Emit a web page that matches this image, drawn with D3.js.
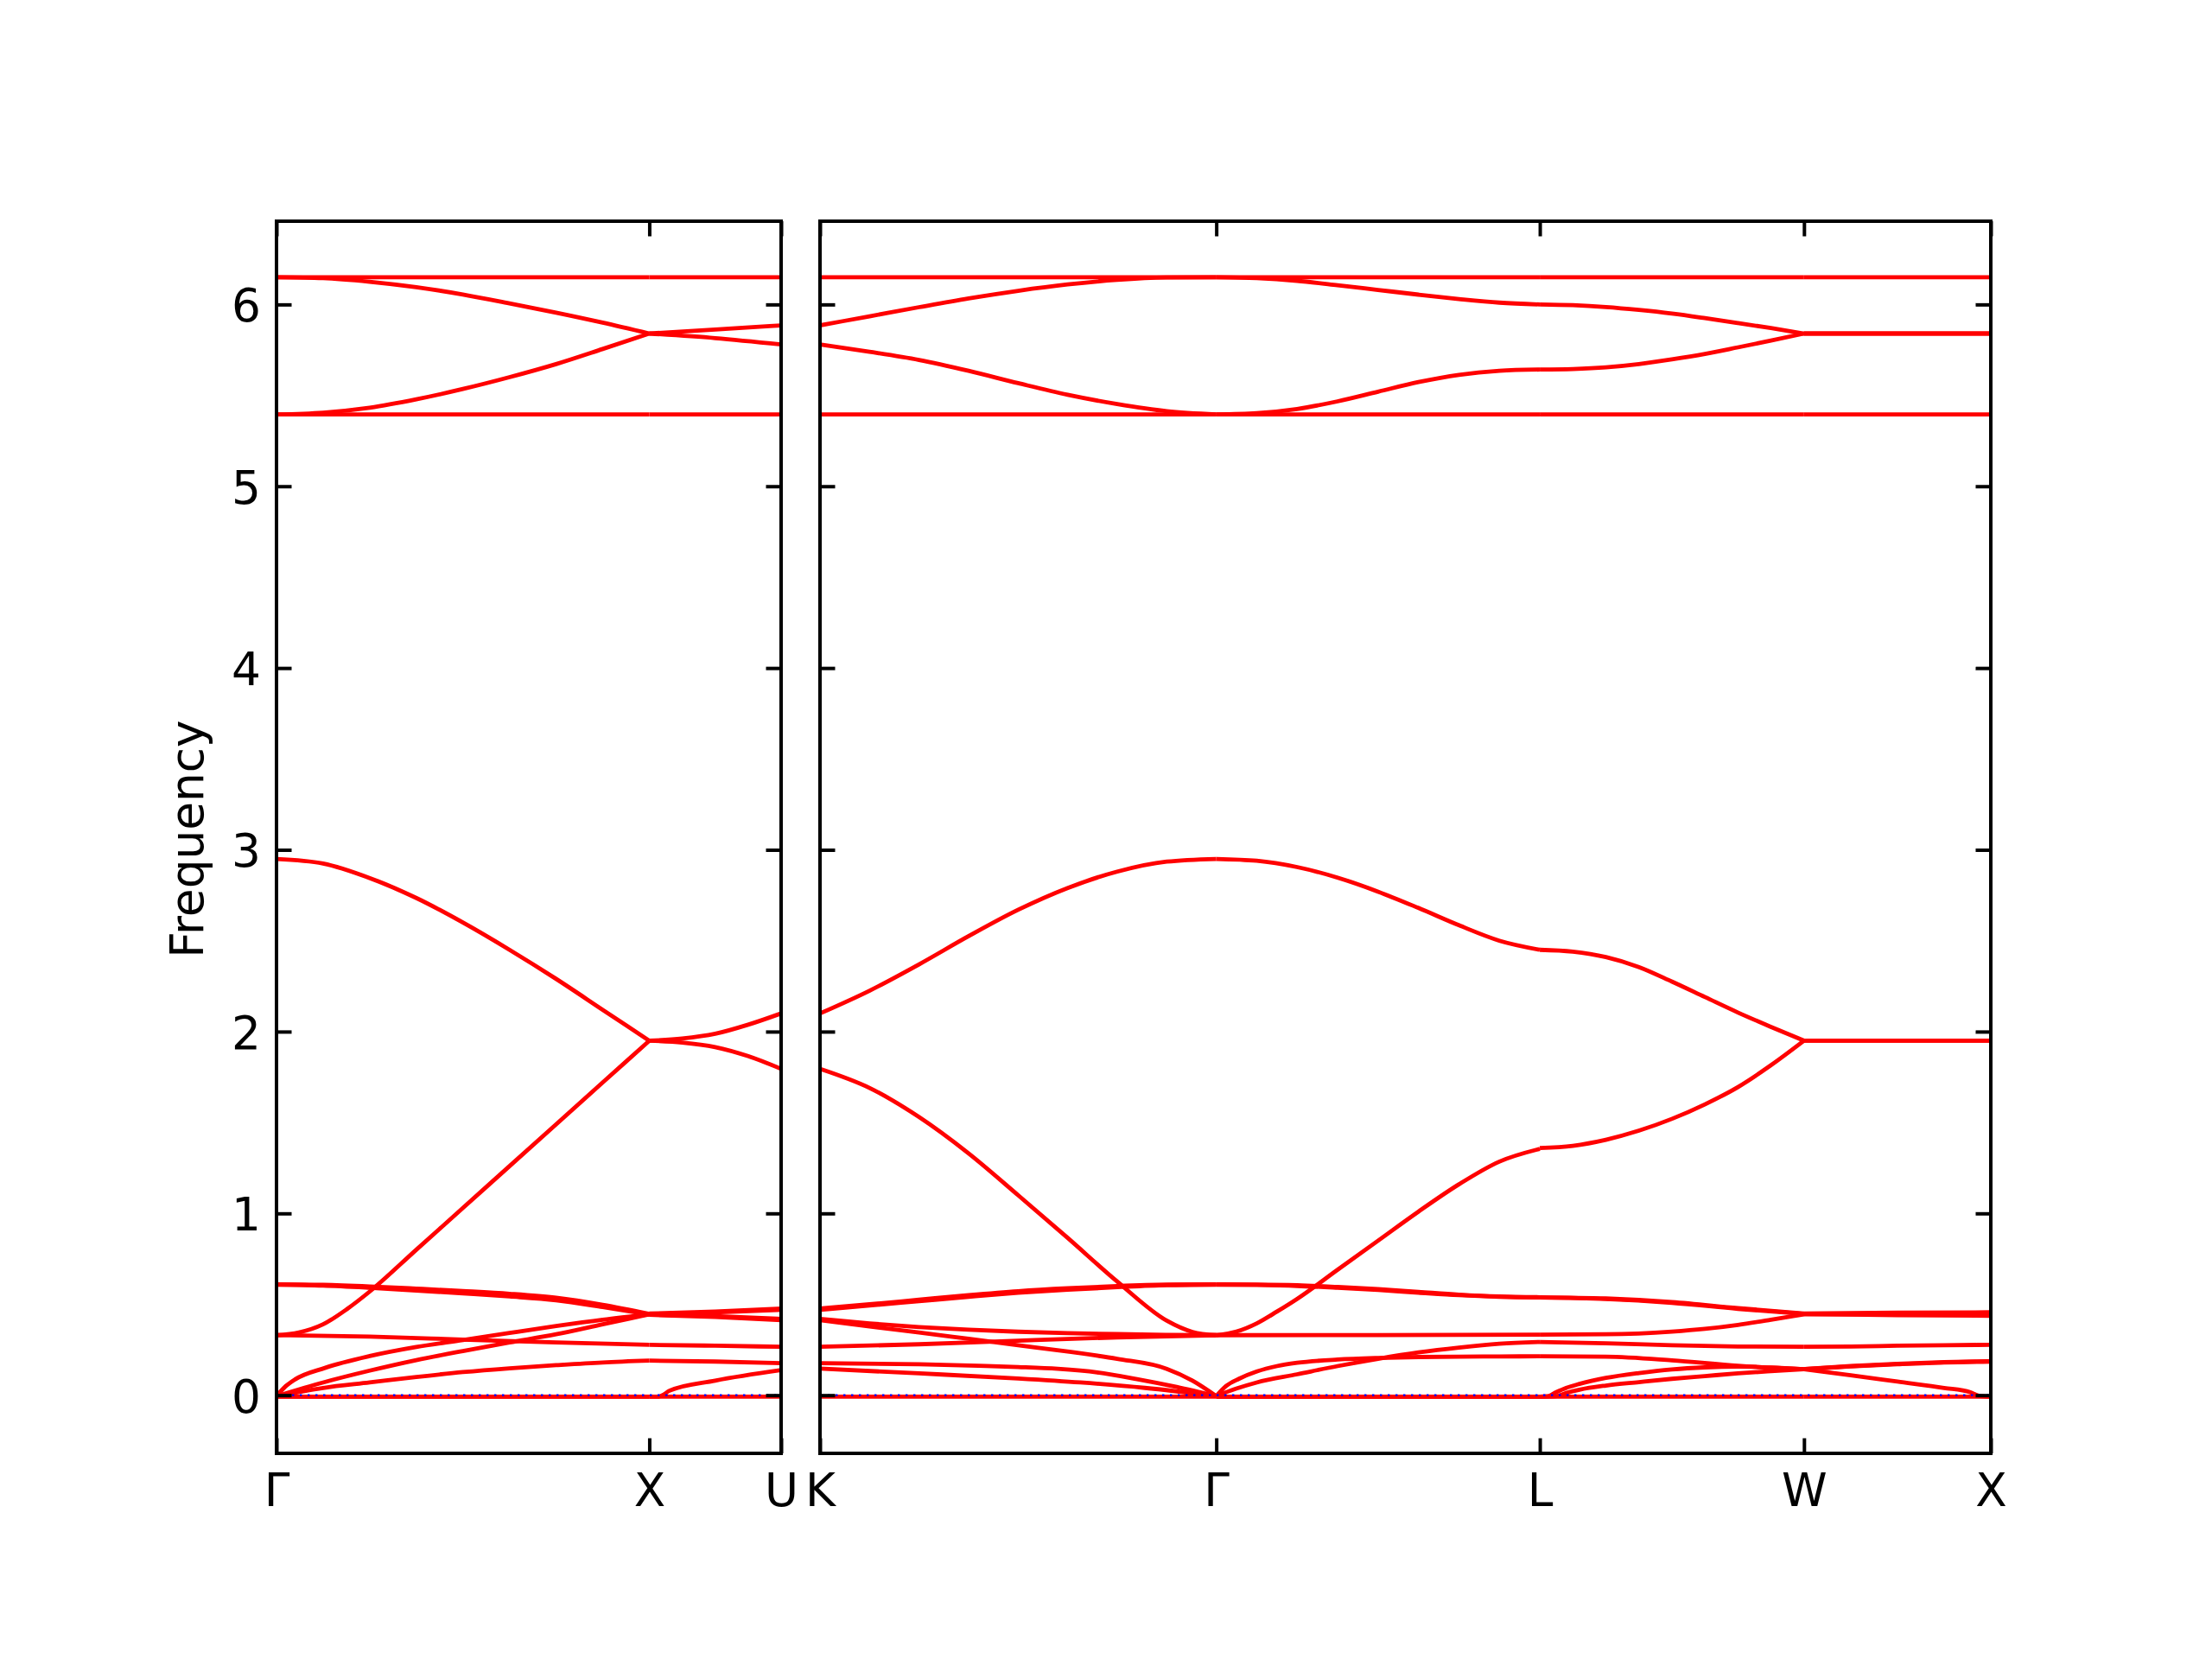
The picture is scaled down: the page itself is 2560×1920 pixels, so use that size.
<!DOCTYPE html>
<html><head><meta charset="utf-8">
<script src="https://cdn.jsdelivr.net/npm/d3@7"></script>
<style>html,body{margin:0;padding:0;background:#fff;} svg{display:block;}</style>
</head><body>
<svg id="chart" width="2560" height="1920"></svg>
<script>
// ---------------- DATA ----------------
const segmentNames   = ["Γ-X", "X-U", "K-Γ", "Γ-L", "L-W", "W-X"];
const segmentLengths = [1.0, 0.3536, 1.0607, 0.8660, 0.7071, 0.5];
const segmentPanel   = [0, 0, 1, 1, 1, 1];
const panelTickLabels = [["Γ", "X", "U"], ["K", "Γ", "L", "W", "X"]];
const yTickValues = [0, 1, 2, 3, 4, 5, 6];
const yDomain = [-0.32, 6.458];
const yLabel = "Frequency";

// each band: [fraction along segment, frequency]
const bandsGX = [
  [[0,6.15],[1,6.15]],
  [[0,6.15],[.125,6.145],[.25,6.125],[.375,6.095],[.5,6.055],[.625,6.006],[.75,5.955],[.875,5.9],[1,5.84]],
  [[0,5.395],[.125,5.405],[.25,5.432],[.375,5.478],[.5,5.535],[.625,5.6],[.75,5.672],[.875,5.755],[1,5.84]],
  [[0,5.395],[1,5.395]],
  [[0,2.95],[.125,2.925],[.25,2.845],[.375,2.735],[.5,2.6],[.625,2.45],[.75,2.29],[.875,2.12],[1,1.95]],
  [[0,.33],[.06,.345],[.125,.39],[.19,.475],[.25,.57],[.375,.8],[.5,1.03],[.625,1.26],[.75,1.49],[.875,1.72],[1,1.95]],
  [[0,.61],[.125,.607],[.25,.598],[.375,.586],[.5,.573],[.625,.558],[.75,.536],[.875,.497],[1,.447]],
  [[0,.608],[.125,.603],[.25,.591],[.375,.576],[.5,.56],[.625,.543],[.75,.522],[.875,.485],[1,.444]],
  [[0,.33],[.25,.322],[.5,.306],[.75,.29],[1,.277]],
  [[0,-.005],[.025,.05],[.05,.087],[.13,.15],[.25,.215],[.375,.265],[.5,.303],[.625,.342],[.75,.38],[.875,.415],[1,.445]],
  [[0,-.005],[.125,.07],[.25,.135],[.375,.193],[.5,.243],[.625,.29],[.75,.335],[.875,.39],[1,.445]],
  [[0,-.005],[.125,.04],[.25,.07],[.375,.1],[.5,.127],[.625,.148],[.75,.165],[.875,.18],[1,.19]],
  [[0,-.008],[1,-.008]],
  [[0,-.008],[1,-.008]]
];
const bandsXU = [
  [[0,6.15],[1,6.15]],
  [[0,5.84],[.5,5.862],[1,5.885]],
  [[0,5.84],[.5,5.815],[1,5.78]],
  [[0,5.395],[1,5.395]],
  [[0,1.95],[.25,1.962],[.5,1.988],[.75,2.038],[1,2.1]],
  [[0,1.95],[.25,1.94],[.5,1.915],[.75,1.865],[1,1.795]],
  [[0,.449],[.5,.46],[1,.477]],
  [[0,.446],[.5,.455],[1,.47]],
  [[0,.444],[.5,.435],[1,.42]],
  [[0,.442],[.5,.43],[1,.413]],
  [[0,.277],[.5,.272],[1,.266]],
  [[0,.19],[.5,.185],[1,.176]],
  [[0,-.008],[.07,-.008],[.1,.0],[.155,.025],[.5,.08],[1,.138]],
  [[0,-.008],[1,-.008]]
];
const bandsKG = [
  [[0,6.15],[1,6.15]],
  [[0,5.885],[.125,5.935],[.25,5.985],[.375,6.033],[.5,6.075],[.625,6.11],[.75,6.135],[.875,6.148],[1,6.15]],
  [[0,5.78],[.125,5.74],[.25,5.695],[.375,5.635],[.5,5.567],[.625,5.503],[.75,5.452],[.875,5.413],[1,5.395]],
  [[0,5.395],[1,5.395]],
  [[0,2.1],[.125,2.225],[.25,2.37],[.375,2.525],[.5,2.67],[.625,2.79],[.75,2.88],[.875,2.935],[1,2.95]],
  [[0,1.795],[.125,1.69],[.25,1.53],[.375,1.33],[.5,1.1],[.625,.865],[.75,.625],[.875,.41],[.94,.348],[1,.33]],
  [[0,.477],[.125,.5],[.25,.525],[.375,.55],[.5,.572],[.625,.588],[.75,.6],[.875,.608],[1,.61]],
  [[0,.47],[.125,.493],[.25,.517],[.375,.541],[.5,.563],[.625,.58],[.75,.594],[.875,.605],[1,.608]],
  [[0,.42],[.125,.395],[.25,.375],[.375,.36],[.5,.349],[.625,.341],[.75,.336],[.875,.332],[1,.33]],
  [[0,.413],[.125,.378],[.25,.345],[.375,.31],[.5,.275],[.625,.24],[.75,.2],[.875,.145],[.94,.08],[1,-.005]],
  [[0,.266],[.25,.28],[.5,.3],[.75,.318],[1,.33]],
  [[0,.176],[.25,.17],[.4,.162],[.5,.155],[.6,.145],[.7,.125],[.8,.088],[.9,.045],[1,-.005]],
  [[0,.146],[.25,.12],[.5,.092],[.657,.07],[.82,.04],[1,-.005]],
  [[0,-.008],[1,-.008]]
];
const bandsGL = [
  [[0,6.15],[1,6.15]],
  [[0,6.15],[.125,6.145],[.25,6.13],[.375,6.106],[.5,6.08],[.625,6.054],[.75,6.03],[.875,6.01],[1,6.0]],
  [[0,5.395],[.125,5.402],[.25,5.425],[.375,5.467],[.5,5.52],[.625,5.573],[.75,5.613],[.875,5.635],[1,5.642]],
  [[0,5.395],[1,5.395]],
  [[0,2.95],[.125,2.94],[.25,2.905],[.375,2.847],[.5,2.77],[.625,2.68],[.75,2.585],[.875,2.5],[1,2.45]],
  [[0,.33],[.0625,.35],[.125,.395],[.1875,.46],[.25,.53],[.375,.69],[.5,.85],[.625,1.01],[.75,1.16],[.875,1.285],[1,1.355]],
  [[0,.61],[.125,.609],[.25,.605],[.375,.595],[.5,.583],[.625,.568],[.75,.553],[.875,.543],[1,.539]],
  [[0,.608],[.125,.606],[.25,.601],[.375,.591],[.5,.579],[.625,.564],[.75,.55],[.875,.541],[1,.537]],
  [[0,.33],[.5,.331],[1,.333]],
  [[0,-.005],[.06,.035],[.125,.07],[.25,.115],[.375,.16],[.5,.2],[.625,.235],[.75,.262],[.875,.283],[1,.293]],
  [[0,-.005],[.03,.05],[.07,.09],[.125,.13],[.1875,.16],[.25,.178],[.375,.196],[.5,.205],[.625,.21],[.75,.212],[.875,.213],[1,.214]],
  [[0,-.008],[1,-.008]],
  [[0,-.008],[1,-.008]],
  [[0,-.008],[1,-.008]]
];
const bandsLW = [
  [[0,6.15],[1,6.15]],
  [[0,6.0],[.125,5.996],[.25,5.986],[.375,5.97],[.5,5.95],[.625,5.925],[.75,5.898],[.875,5.87],[1,5.84]],
  [[0,5.642],[.125,5.645],[.25,5.654],[.375,5.672],[.5,5.698],[.625,5.728],[.75,5.764],[.875,5.801],[1,5.84]],
  [[0,5.395],[1,5.395]],
  [[0,2.45],[.125,2.44],[.25,2.41],[.375,2.355],[.5,2.275],[.625,2.19],[.75,2.105],[.875,2.026],[1,1.95]],
  [[0,1.36],[.125,1.372],[.25,1.405],[.375,1.455],[.5,1.52],[.625,1.6],[.75,1.695],[.875,1.815],[1,1.95]],
  [[0,.539],[.25,.532],[.5,.512],[.75,.479],[1,.449]],
  [[0,.537],[.25,.529],[.5,.508],[.75,.475],[1,.447]],
  [[0,.333],[.25,.335],[.5,.35],[.625,.365],[.75,.387],[.875,.415],[1,.445]],
  [[0,.293],[.25,.285],[.5,.275],[.75,.268],[1,.266]],
  [[0,.214],[.25,.212],[.5,.192],[.75,.162],[1,.143]],
  [[0,-.008],[.03,-.006],[.06,.015],[.1,.04],[.15,.062],[.25,.095],[.375,.122],[.5,.142],[.625,.153],[.75,.157],[.875,.152],[1,.143]],
  [[0,-.008],[.06,-.006],[.1,.012],[.15,.03],[.25,.053],[.375,.072],[.5,.09],[.625,.105],[.75,.12],[.875,.132],[1,.143]],
  [[0,-.008],[1,-.008]]
];
const bandsWX = [
  [[0,6.15],[1,6.15]],
  [[0,5.84],[1,5.84]],
  [[0,5.84],[1,5.84]],
  [[0,5.395],[1,5.395]],
  [[0,1.95],[1,1.95]],
  [[0,1.95],[1,1.95]],
  [[0,.449],[.5,.454],[1,.456]],
  [[0,.447],[.5,.44],[1,.437]],
  [[0,.445],[1,.445]],
  [[0,.266],[.25,.268],[.5,.272],[.75,.275],[1,.277]],
  [[0,.143],[.25,.16],[.5,.173],[.75,.182],[1,.187]],
  [[0,.143],[.25,.158],[.5,.17],[.75,.18],[1,.185]],
  [[0,.143],[.25,.11],[.5,.075],[.75,.04],[.89,.016],[.94,-.004],[1,-.008]],
  [[0,-.008],[1,-.008]]
];
const segmentBands = [bandsGX, bandsXU, bandsKG, bandsGL, bandsLW, bandsWX];

// ---------------- LAYOUT ----------------
const panelBoxes = [{x0: 320, x1: 904}, {x0: 949, x1: 2304}];
const plotTop = 256, plotBottom = 1682;
const FONT = '"DejaVu Sans", sans-serif';
const FS = 53.3, TICK = 17.5, FRAME_W = 4;

const svg = d3.select("#chart");
const y = d3.scaleLinear().domain(yDomain).range([plotBottom, plotTop]);

// per-panel cumulative offsets
const panelLengths = [0, 0];
const segOffset = segmentLengths.map((len, i) => {
  const p = segmentPanel[i];
  const off = panelLengths[p];
  panelLengths[p] += len;
  return off;
});
const xScales = panelBoxes.map((b, p) =>
  d3.scaleLinear().domain([0, panelLengths[p]]).range([b.x0, b.x1]));
const panelTickPos = [0, 1].map(p => {
  const pos = [0];
  segmentLengths.forEach((len, i) => { if (segmentPanel[i] === p) pos.push(segOffset[i] + len); });
  return pos;
});

const defs = svg.append("defs");
panelBoxes.forEach((b, p) => {
  defs.append("clipPath").attr("id", "clip" + p)
    .append("rect").attr("x", b.x0).attr("y", plotTop)
    .attr("width", b.x1 - b.x0).attr("height", plotBottom - plotTop);
});

// bands
segmentBands.forEach((bands, i) => {
  const p = segmentPanel[i], xs = xScales[p], off = segOffset[i], len = segmentLengths[i];
  const line = d3.line()
    .x(d => xs(off + d[0] * len))
    .y(d => y(d[1]))
    .curve(d3.curveMonotoneX);
  svg.append("g").attr("clip-path", `url(#clip${p})`)
    .selectAll("path").data(bands).join("path")
    .attr("d", line)
    .attr("fill", "none")
    .attr("stroke", "#ff0000")
    .attr("stroke-width", 4.8)
    .attr("stroke-linejoin", "round")
    .attr("stroke-linecap", "butt");
});

// zero reference line (blue dotted)
panelBoxes.forEach((b, p) => {
  svg.append("line")
    .attr("x1", b.x0).attr("x2", b.x1)
    .attr("y1", y(0)).attr("y2", y(0))
    .attr("stroke", "#0000ff").attr("stroke-width", 2.3)
    .attr("stroke-dasharray", "2.5,6.5");
});

// axes
function styleAxis(g) {
  g.select(".domain").remove();
  g.selectAll(".tick line").attr("stroke", "#000").attr("stroke-width", FRAME_W);
  g.selectAll("text").attr("font-family", FONT).attr("font-size", FS).attr("fill", "#000");
  g.attr("font-family", null).attr("font-size", null);
}
panelBoxes.forEach((b, p) => {
  const xs = xScales[p];
  const labels = panelTickLabels[p];
  svg.append("g").attr("transform", `translate(${b.x0},0)`)
    .call(d3.axisLeft(y).tickValues(yTickValues).tickSize(-TICK).tickPadding(18)
      .tickFormat(p === 0 ? d3.format("d") : () => ""))
    .call(styleAxis)
    .call(g => g.selectAll("text").attr("dy", "0.365em"));
  svg.append("g").attr("transform", `translate(${b.x1},0)`)
    .call(d3.axisRight(y).tickValues(yTickValues).tickSize(-TICK).tickFormat(() => ""))
    .call(styleAxis);
  svg.append("g").attr("transform", `translate(0,${plotBottom})`)
    .call(d3.axisBottom(xs).tickValues(panelTickPos[p]).tickSize(-TICK).tickPadding(23)
      .tickFormat((d, i) => labels[i]))
    .call(styleAxis)
    .call(g => g.selectAll("text").attr("dy", "0.71em"));
  svg.append("g").attr("transform", `translate(0,${plotTop})`)
    .call(d3.axisTop(xs).tickValues(panelTickPos[p]).tickSize(-TICK).tickFormat(() => ""))
    .call(styleAxis);
  svg.append("rect")
    .attr("x", b.x0).attr("y", plotTop)
    .attr("width", b.x1 - b.x0).attr("height", plotBottom - plotTop)
    .attr("fill", "none").attr("stroke", "#000").attr("stroke-width", FRAME_W);
});

// y label
svg.append("text")
  .attr("transform", `translate(235,${(plotTop + plotBottom) / 2 + 2}) rotate(-90)`)
  .attr("text-anchor", "middle")
  .attr("font-family", FONT).attr("font-size", FS).attr("fill", "#000")
  .text(yLabel);
</script>
</body></html>
